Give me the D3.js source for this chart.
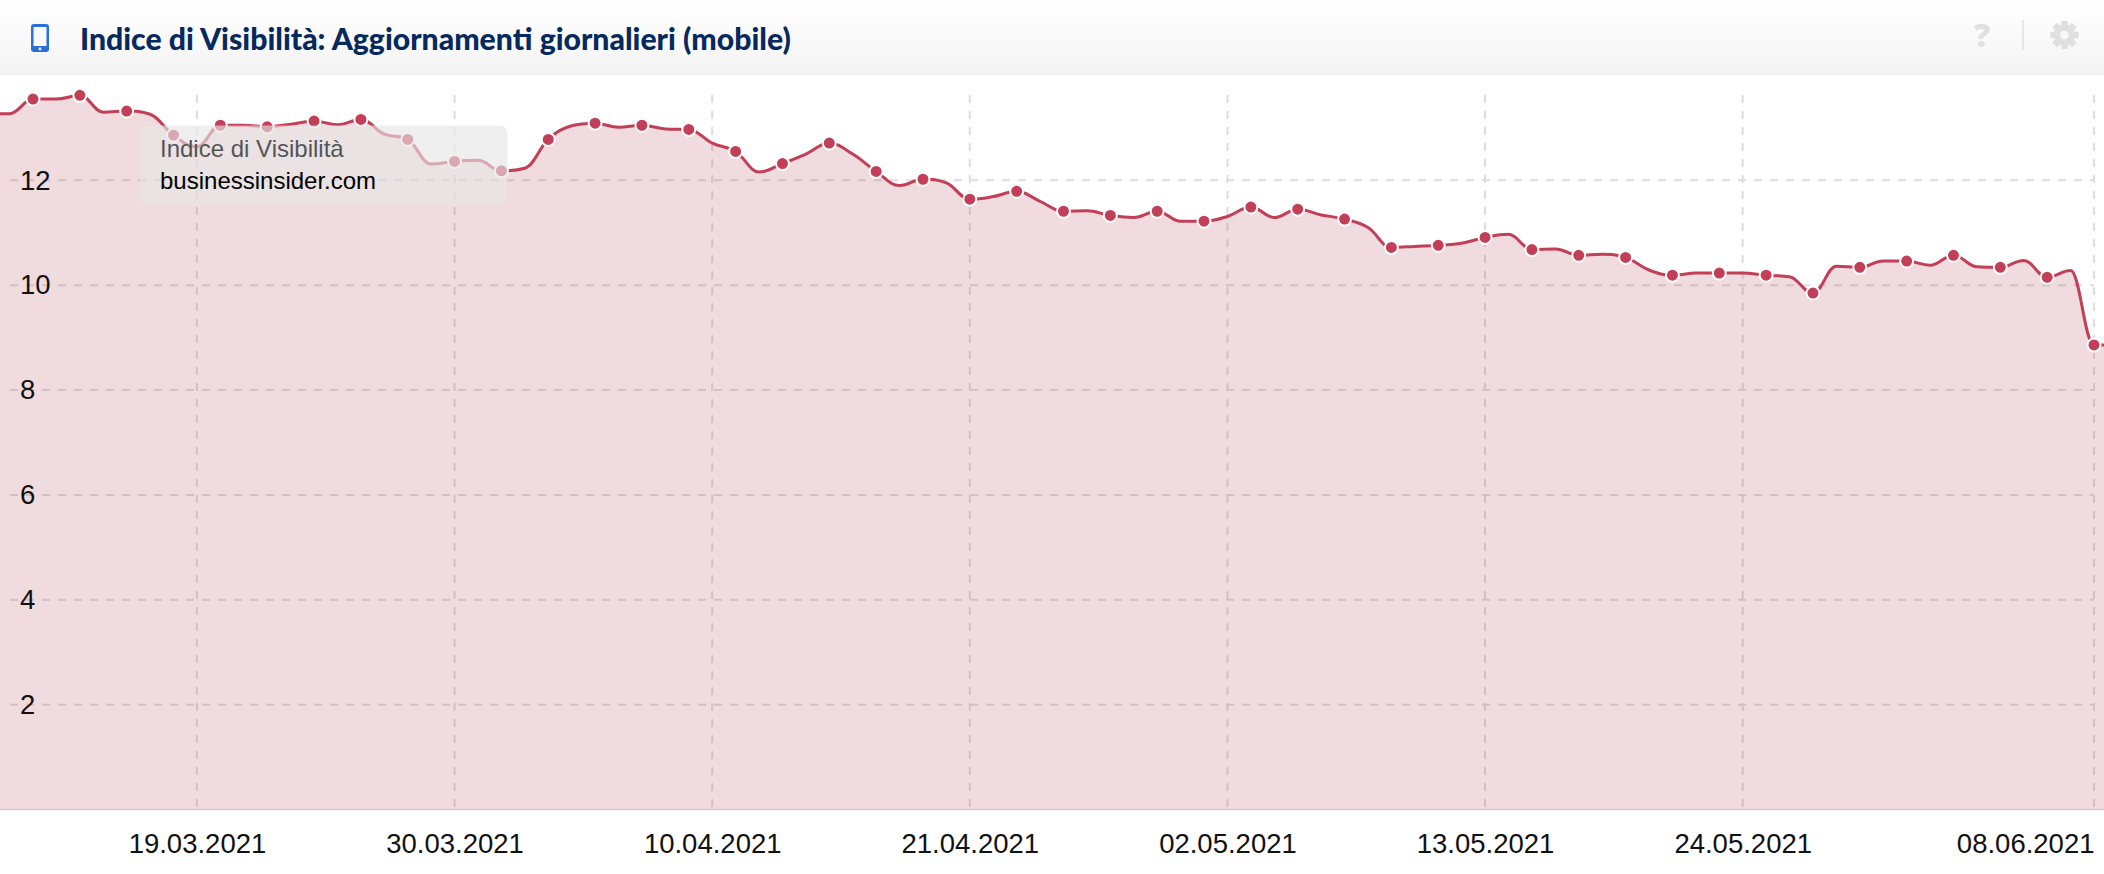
<!DOCTYPE html>
<html>
<head>
<meta charset="utf-8">
<script src="https://cdn.jsdelivr.net/npm/d3@7"></script>
<style>
  html, body { margin: 0; padding: 0; background: #fff; }
  svg { display: block; }
  text { font-family: "Liberation Sans", Arial, sans-serif; }
  .axis .domain { display: none; }
  .axis text { fill: #111; font-size: 27.5px; }
</style>
</head>
<body>
<svg id="chart"></svg>
<script>
// ── data: one value per day, 10.03.2021 to 09.06.2021 ───
const firstDay = "10.03.2021", lastDay = "09.06.2021";
const visibility = [
  // March, from the 10th
  13.27, 13.27, 13.55, 13.55, 13.62, 13.30, 13.32, 13.26, 12.86, 12.64, 13.05,
  13.05, 13.02, 13.07, 13.13, 13.06, 13.16, 12.88, 12.78, 12.31, 12.36, 12.38,
  // April
  12.18, 12.23, 12.78, 13.04, 13.09, 13.01, 13.05, 12.98, 12.97, 12.71,
  12.55, 12.16, 12.32, 12.50, 12.71, 12.50, 12.17, 11.90, 12.02, 11.95,
  11.64, 11.69, 11.79, 11.60, 11.41, 11.42, 11.33, 11.29, 11.41, 11.22,
  // May
  11.22, 11.31, 11.49, 11.29, 11.45, 11.34, 11.26, 11.10, 10.72, 10.74,
  10.76, 10.80, 10.91, 10.97, 10.68, 10.69, 10.57, 10.59, 10.53, 10.29,
  10.19, 10.23, 10.23, 10.23, 10.19, 10.16, 9.85, 10.36, 10.34, 10.46, 10.46,
  // June, to the 9th
  10.38, 10.57, 10.35, 10.34, 10.47, 10.15, 10.28, 8.86, 8.86
];
const xTickLabels = ["19.03.2021", "30.03.2021", "10.04.2021", "21.04.2021", "02.05.2021", "13.05.2021", "24.05.2021", "08.06.2021"];
const yTickLabels = [2, 4, 6, 8, 10, 12];
const titleText = "Indice di Visibilità: Aggiornamenti giornalieri (mobile)";
const tooltipLines = ["Indice di Visibilità", "businessinsider.com"];

// ── layout ───────────────────────────────────────────────────────────────────
const W = 2104, H = 874;
const parseDate = d3.utcParse("%d.%m.%Y");
const fmtDate = d3.utcFormat("%d.%m.%Y");
const days = d3.utcDay.range(parseDate(firstDay), d3.utcDay.offset(parseDate(lastDay), 1));
const series = days.map((d, i) => ({ date: d, value: visibility[i] }));
const marked = series.filter((d, i) => i % 2 === 0); // markers only on every second day

const x = d3.scaleUtc().domain([parseDate("12.03.2021"), parseDate("08.06.2021")]).range([33, 2094]);
const y = d3.scaleLinear().domain([0, 12]).range([809.6, 180.3]);

const lineColor = "#c33f58";

// Spline with the same control point rule as the original charting lib
function splineCurve(context) {
  let pts, inArea = NaN;
  return {
    areaStart() { inArea = 0; },
    areaEnd() { inArea = NaN; },
    lineStart() { pts = []; },
    point(px, py) { pts.push([+px, +py]); },
    lineEnd() {
      if (inArea === 1) context.lineTo(pts[0][0], pts[0][1]);
      else context.moveTo(pts[0][0], pts[0][1]);
      const smoothing = 1.5, denom = smoothing + 1;
      const ctrl = pts.map((p, i) => {
        if (i === 0 || i === pts.length - 1) return { lx: p[0], ly: p[1], rx: p[0], ry: p[1] };
        const [lastX, lastY] = pts[i - 1], [nextX, nextY] = pts[i + 1], [px, py] = p;
        const lx = (smoothing * px + lastX) / denom, rx = (smoothing * px + nextX) / denom;
        let ly = (smoothing * py + lastY) / denom, ry = (smoothing * py + nextY) / denom;
        const correction = ((ry - ly) * (rx - px)) / (rx - lx) + py - ry;
        ly += correction; ry += correction;
        // no false extremes
        if (ly > lastY && ly > py) { ly = Math.max(lastY, py); ry = 2 * py - ly; }
        else if (ly < lastY && ly < py) { ly = Math.min(lastY, py); ry = 2 * py - ly; }
        if (ry > nextY && ry > py) { ry = Math.max(nextY, py); ly = 2 * py - ry; }
        else if (ry < nextY && ry < py) { ry = Math.min(nextY, py); ly = 2 * py - ry; }
        return { lx, ly, rx, ry };
      });
      for (let i = 1; i < pts.length; i++) {
        context.bezierCurveTo(ctrl[i - 1].rx, ctrl[i - 1].ry, ctrl[i].lx, ctrl[i].ly, pts[i][0], pts[i][1]);
      }
      if (inArea === 1) context.closePath();
      if (inArea === 0) inArea = 1;
    }
  };
}

const svg = d3.select("#chart").attr("width", W).attr("height", H);
const defs = svg.append("defs");
const grad = defs.append("linearGradient").attr("id", "headerGrad").attr("x1", 0).attr("x2", 0).attr("y1", 0).attr("y2", 1);
grad.append("stop").attr("offset", "0%").attr("stop-color", "#ffffff");
grad.append("stop").attr("offset", "100%").attr("stop-color", "#f4f4f4");
defs.append("clipPath").attr("id", "plotClip").append("rect").attr("x", 0).attr("y", 75).attr("width", W).attr("height", 735);

// ── header ───────────────────────────────────────────────────────────────────
const header = svg.append("g").attr("class", "header");
header.append("rect").attr("width", W).attr("height", 74).attr("fill", "url(#headerGrad)");
header.append("line").attr("x1", 0).attr("x2", W).attr("y1", 74.5).attr("y2", 74.5).attr("stroke", "#ececec").attr("stroke-width", 1);

const phone = header.append("g").attr("transform", "translate(31,24)");
phone.append("rect").attr("width", 18).attr("height", 28).attr("rx", 3).attr("fill", "#2b6fdc");
phone.append("rect").attr("x", 2.5).attr("y", 3).attr("width", 13).attr("height", 19).attr("fill", "#f8f9fb");
phone.append("circle").attr("cx", 9).attr("cy", 25).attr("r", 1.4).attr("fill", "#f8f9fb");

header.append("text").attr("x", 80).attr("y", 50).text(titleText)
  .style("font-family", "Lato, sans-serif").style("font-weight", 900).style("font-size", "30.2px").attr("fill", "#06295e");

header.append("text").attr("x", 1982).attr("y", 47).attr("text-anchor", "middle").text("?")
  .style("font-family", "'Open Sans', sans-serif").style("font-weight", 800).style("font-size", "32px").attr("fill", "#e0e0e0");
header.append("line").attr("x1", 2023).attr("x2", 2023).attr("y1", 20).attr("y2", 50).attr("stroke", "#e0e0e0").attr("stroke-width", 1.5);

const gear = header.append("g").attr("transform", "translate(2064.5,35)");
gear.selectAll("rect.tooth").data(d3.range(0, 360, 45)).join("rect").attr("class", "tooth")
  .attr("x", -3.2).attr("y", -14).attr("width", 6.4).attr("height", 28).attr("rx", 1)
  .attr("fill", "#e0e0e0").attr("transform", d => `rotate(${d})`);
gear.append("circle").attr("r", 10.5).attr("fill", "#e0e0e0");
gear.append("circle").attr("r", 4.2).attr("fill", "#f8f8f8");

// ── grid ─────────────────────────────────────────────────────────────────────
const gridColor = "#dddddd";
const root = svg.append("g");
root.selectAll("line.grid-y").data(yTickLabels).join("line").attr("class", "grid-y")
  .attr("x1", 10).attr("x2", x(parseDate("08.06.2021"))).attr("y1", d => y(d)).attr("y2", d => y(d))
  .attr("stroke", gridColor).attr("stroke-width", 2).attr("stroke-dasharray", "8,8");
root.selectAll("line.grid-x").data(xTickLabels).join("line").attr("class", "grid-x")
  .attr("x1", d => x(parseDate(d))).attr("x2", d => x(parseDate(d))).attr("y1", 95).attr("y2", y(0))
  .attr("stroke", gridColor).attr("stroke-width", 2).attr("stroke-dasharray", "8,8");

// ── series ───────────────────────────────────────────────────────────────────
const plot = root.append("g").attr("clip-path", "url(#plotClip)");
const area = d3.area().x(d => x(d.date)).y0(y(0)).y1(d => y(d.value)).curve(splineCurve);
const line = d3.line().x(d => x(d.date)).y(d => y(d.value)).curve(splineCurve);

plot.append("path").datum(series).attr("d", area).attr("fill", "#ac3d4d").attr("fill-opacity", 0.18);
plot.append("path").datum(series).attr("d", line).attr("fill", "none").attr("stroke", lineColor).attr("stroke-width", 3);
plot.selectAll("circle.dot").data(marked).join("circle").attr("class", "dot")
  .attr("cx", d => x(d.date)).attr("cy", d => y(d.value)).attr("r", 6.5)
  .attr("fill", lineColor).attr("stroke", "#fff").attr("stroke-width", 2);

root.append("line").attr("x1", 0).attr("x2", W).attr("y1", y(0)).attr("y2", y(0)).attr("stroke", "#d8c9cd").attr("stroke-width", 1.5);

// ── axes ─────────────────────────────────────────────────────────────────────
const yAxis = root.append("g").attr("class", "axis y-axis")
  .call(d3.axisLeft(y).tickValues(yTickLabels).tickSize(0).tickFormat(d3.format("d")));
yAxis.selectAll("text").attr("x", 20).attr("text-anchor", "start");

const xAxis = root.append("g").attr("class", "axis x-axis").attr("transform", `translate(0,${y(0)})`)
  .call(d3.axisBottom(x).tickValues(xTickLabels.map(parseDate)).tickSize(0).tickFormat(fmtDate));
xAxis.selectAll("text").attr("y", 24);
// last label would run off the page, so it ends at its tick
xAxis.selectAll("g.tick:last-of-type text").attr("text-anchor", "end");

// ── tooltip ──────────────────────────────────────────────────────────────────
const tip = svg.append("g").attr("class", "tooltip");
tip.append("rect").attr("x", 140).attr("y", 125.5).attr("width", 367.5).attr("height", 80.5).attr("rx", 8)
  .attr("fill", "#e6e6e6").attr("fill-opacity", 0.63);
tip.append("text").attr("x", 160).attr("y", 157).text(tooltipLines[0]).attr("fill", "#555").style("font-size", "24px");
tip.append("text").attr("x", 160).attr("y", 189).text(tooltipLines[1]).attr("fill", "#000").style("font-size", "24px");
</script>
</body>
</html>
